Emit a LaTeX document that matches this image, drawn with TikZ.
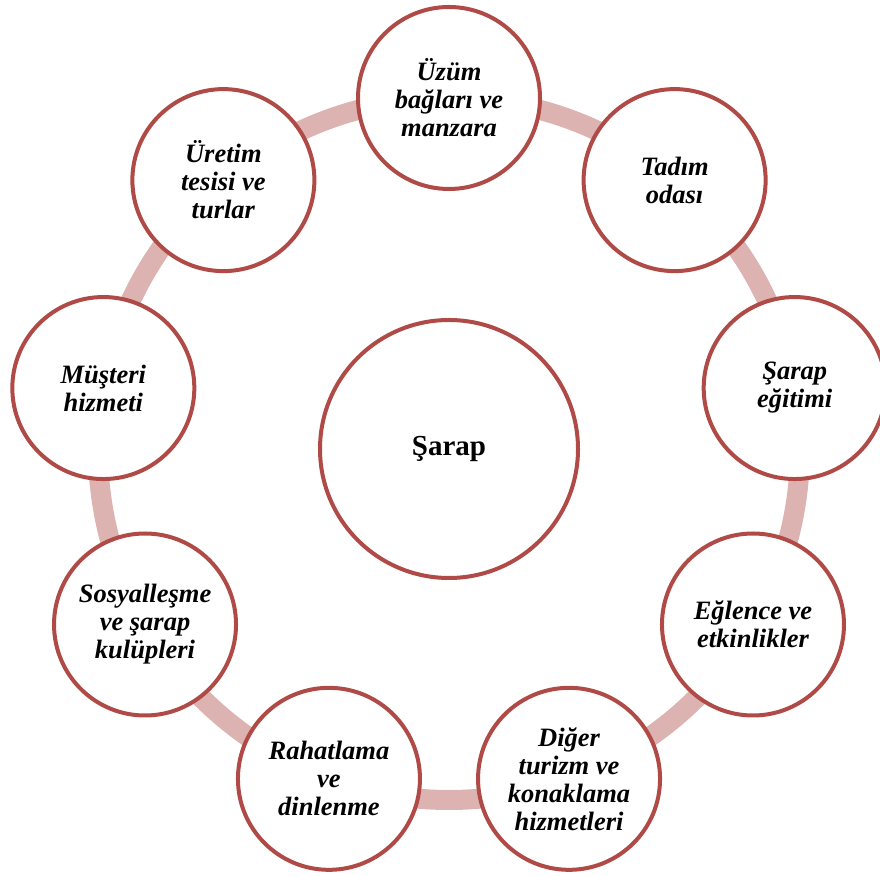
\documentclass[tikz,border=0pt]{standalone}
\usepackage{fontspec}
\setmainfont{Liberation Serif}
\usetikzlibrary{calc}
\definecolor{ringc}{RGB}{221,179,178}
\definecolor{edgec}{RGB}{176,74,70}
\tikzset{
  item/.style={circle, draw=edgec, line width=4pt, fill=white, minimum size=182pt, inner sep=0pt,
    align=center, font=\fontsize{26.5}{28}\selectfont\bfseries\itshape},
  hub/.style={circle, draw=edgec, line width=4pt, fill=white, minimum size=258pt, inner sep=0pt,
    font=\fontsize{29}{30}\selectfont\bfseries},
  ring/.style={draw=ringc, line width=20pt}
}
\begin{document}
\begin{tikzpicture}[x=1pt,y=1pt]
\useasboundingbox (0,0) rectangle (880,875);
\coordinate (c) at (449,426);
\draw[ring] (c) circle (351);
\node[hub] (hubn) at (c) {Şarap};
\node[item] (n1) at ($(c)+(90:351)$) {Üzüm\\bağları ve\\manzara};
\node[item] (n2) at ($(c)+(50:351)$) {Tadım\\odası};
\node[item] (n3) at ($(c)+(10:351)$) {Şarap\\eğitimi};
\node[item] (n4) at ($(c)+(-30:351)$) {Eğlence ve\\etkinlikler};
\node[item] (n5) at ($(c)+(-70:351)$) {Diğer\\turizm ve\\konaklama\\hizmetleri};
\node[item] (n6) at ($(c)+(-110:351)$) {Rahatlama\\ve\\dinlenme};
\node[item] (n7) at ($(c)+(-150:351)$) {Sosyalleşme\\ve şarap\\kulüpleri};
\node[item] (n8) at ($(c)+(170:351)$) {Müşteri\\hizmeti};
\node[item] (n9) at ($(c)+(130:351)$) {Üretim\\tesisi ve\\turlar};
\end{tikzpicture}
\end{document}
